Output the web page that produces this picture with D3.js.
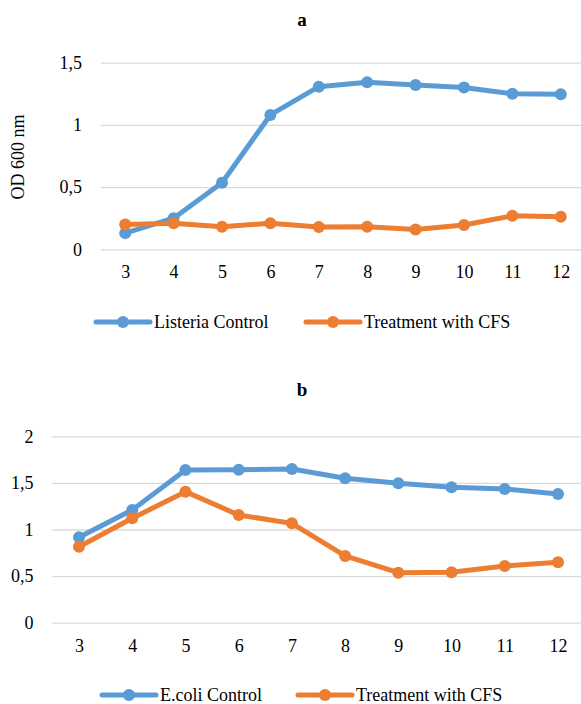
<!DOCTYPE html>
<html>
<head>
<meta charset="utf-8">
<script src="https://cdn.jsdelivr.net/npm/d3@7"></script>
<style>
  body { margin: 0; background: #fff; }
  svg text { font-family: "Liberation Serif", "Times New Roman", Times, serif !important; }
</style>
</head>
<body>
<div id="chart"></div>
<script>
// hours
var hours = [3, 4, 5, 6, 7, 8, 9, 10, 11, 12]

// panel a
var listeriaControl = [0.13, 0.25, 0.535, 1.08, 1.307, 1.342, 1.32, 1.30, 1.25, 1.246]
var listeriaCFS = [0.20, 0.21, 0.182, 0.209, 0.179, 0.182, 0.16, 0.195, 0.27, 0.262]
var ticksA = [0, 0.5, 1, 1.5]

// panel b
var ecoliControl = [0.916, 1.21, 1.638, 1.642, 1.649, 1.549, 1.496, 1.453, 1.435, 1.381]
var ecoliCFS = [0.815, 1.12, 1.406, 1.156, 1.066, 0.716, 0.537, 0.541, 0.608, 0.648]
var ticksB = [0, 0.5, 1, 1.5, 2]

var blue = "#5B9BD5"
var orange = "#ED7D31"

var svg = d3.select("#chart").append("svg")
    .attr("width", 581)
    .attr("height", 704)

function fmt(v) {
    return String(v).replace(".", ",")
}

function panel(opt) {
    var g = svg.append("g")

    var x = d3.scalePoint()
        .domain(hours)
        .range([opt.x0, opt.x1])
        .padding(0.5)
    var y = d3.scaleLinear()
        .domain([0, opt.max])
        .range([opt.y0, opt.y1])

    g.append("text")
        .attr("x", 302)
        .attr("y", opt.titleY)
        .attr("text-anchor", "middle")
        .attr("font-weight", "bold")
        .attr("font-size", 19)
        .text(opt.title)

    // gridlines + y labels
    var ya = g.append("g")
        .attr("transform", "translate(" + opt.x0 + ",0)")
        .call(d3.axisLeft(y).tickValues(opt.ticks).tickFormat(fmt)
            .tickSize(-(opt.x1 - opt.x0)).tickPadding(opt.labelGap))
    ya.select(".domain").remove()
    ya.selectAll("line").attr("stroke", "#d9d9d9").attr("stroke-width", 1.3)
    ya.selectAll("text").attr("font-size", 18).attr("fill", "#000")

    var xa = g.append("g")
        .attr("transform", "translate(0," + opt.y0 + ")")
        .call(d3.axisBottom(x).tickSize(0).tickPadding(opt.xGap))
    xa.select(".domain").remove()
    xa.selectAll("text").attr("font-size", 18).attr("fill", "#000")

    if (opt.yTitle) {
        g.append("text")
            .attr("transform", "translate(24," + opt.yTitleY + ") rotate(-90)")
            .attr("text-anchor", "middle")
            .attr("font-size", 18)
            .text(opt.yTitle)
    }

    var line = d3.line()
        .x((d, i) => x(hours[i]))
        .y(d => y(d))

    opt.series.forEach(s => {
        g.append("path")
            .datum(s.values)
            .attr("fill", "none")
            .attr("stroke", s.color)
            .attr("stroke-width", 5)
            .attr("stroke-linejoin", "round")
            .attr("d", line)
        g.selectAll(null)
            .data(s.values)
            .enter()
            .append("circle")
            .attr("cx", (d, i) => x(hours[i]))
            .attr("cy", d => y(d))
            .attr("r", 6)
            .attr("fill", s.color)
    })

    // legend
    opt.series.forEach(s => {
        var lg = g.append("g").attr("transform", "translate(" + s.lx + "," + opt.legendY + ")")
        lg.append("line")
            .attr("x1", 0).attr("x2", 54)
            .attr("stroke", s.color).attr("stroke-width", 5)
            .attr("stroke-linecap", "round")
        lg.append("circle").attr("cx", 27).attr("r", 6).attr("fill", s.color)
        lg.append("text")
            .attr("x", 58).attr("y", 6)
            .attr("font-size", 18)
            .text(s.name)
    })
}

panel({
    title: "a", titleY: 26,
    x0: 101, x1: 585, y0: 249.3, y1: 62.7, max: 1.5,
    ticks: ticksA, labelGap: 19, xGap: 16,
    yTitle: "OD 600 nm", yTitleY: 157,
    legendY: 322,
    series: [
        { name: "Listeria Control", values: listeriaControl, color: blue, lx: 96 },
        { name: "Treatment with CFS", values: listeriaCFS, color: orange, lx: 306 }
    ]
})

panel({
    title: "b", titleY: 396,
    x0: 52.4, x1: 584.6, y0: 622.7, y1: 436.3, max: 2,
    ticks: ticksB, labelGap: 19, xGap: 17,
    legendY: 695,
    series: [
        { name: "E.coli Control", values: ecoliControl, color: blue, lx: 102 },
        { name: "Treatment with CFS", values: ecoliCFS, color: orange, lx: 298 }
    ]
})
</script>
</body>
</html>
